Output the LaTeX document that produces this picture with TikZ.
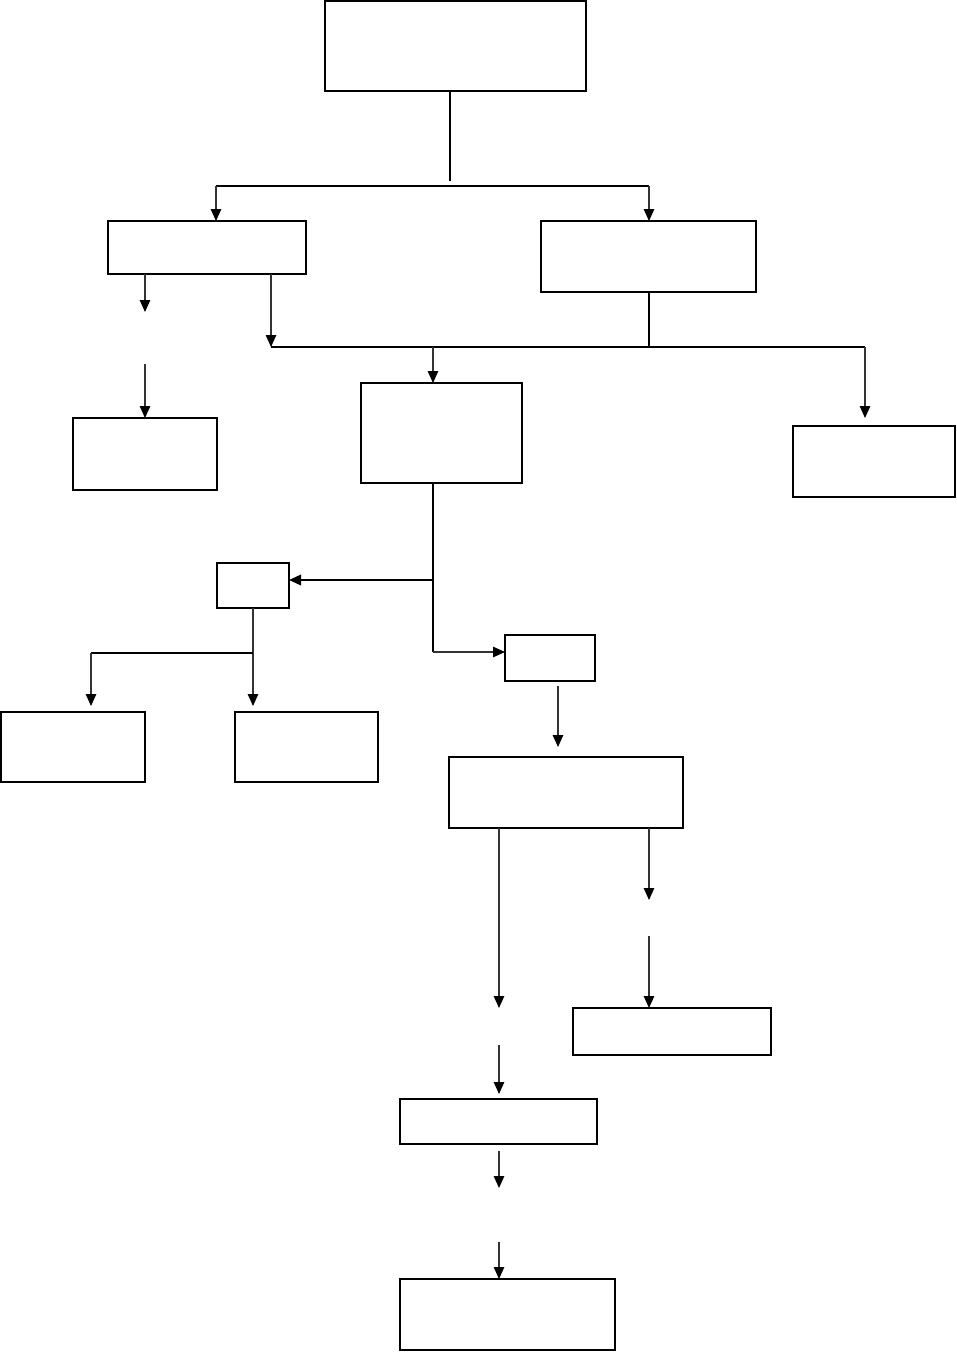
\documentclass[tikz,border=0pt]{standalone}
\usetikzlibrary{arrows.meta}
\tikzset{
  box/.style={draw=black, line width=2pt, inner sep=0pt, outer sep=0pt, fill=white},
  conn/.style={line width=1.2pt, draw=black!80},
  arr/.style={conn, -{Triangle[length=12pt,width=10.5pt,color=black]}},
  bus/.style={line width=2.2pt, draw=black}
}
\begin{document}
\begin{tikzpicture}[x=1pt,y=-1pt]
\useasboundingbox[fill=white] (0,0) rectangle (956,1352);
% boxes
\node[box, minimum width=261pt, minimum height=90pt] (top) at (455.5,46) {};
\node[box, minimum width=198pt, minimum height=53pt] (A) at (207,247.5) {};
\node[box, minimum width=215pt, minimum height=71pt] (B) at (648.5,256.5) {};
\node[box, minimum width=144pt, minimum height=72pt] (C) at (145,454) {};
\node[box, minimum width=161pt, minimum height=100pt] (D) at (441.5,433) {};
\node[box, minimum width=162pt, minimum height=71pt] (E) at (874,461.5) {};
\node[box, minimum width=72pt, minimum height=45pt] (F) at (253,585.5) {};
\node[box, minimum width=90pt, minimum height=46pt] (G) at (550,658) {};
\node[box, minimum width=143pt, minimum height=70pt] (H) at (306.5,747) {};
\node[box, minimum width=144pt, minimum height=70pt] (I) at (73,747) {};
\node[box, minimum width=234pt, minimum height=71pt] (J) at (566,792.5) {};
\node[box, minimum width=197pt, minimum height=45pt] (K) at (498.5,1121.5) {};
\node[box, minimum width=198pt, minimum height=47pt] (L) at (672,1031.5) {};
\node[box, minimum width=215pt, minimum height=71pt] (M) at (507.5,1314.5) {};
% coordinates
\coordinate (t1) at (450,181);
\coordinate (b1l) at (216,186);
\coordinate (b1r) at (649,186);
\coordinate (a1) at (145,312);
\coordinate (a2) at (145,364);
\coordinate (b2l) at (271,347);
\coordinate (b2r) at (865,347);
\coordinate (bB) at (649,347);
\coordinate (d0) at (433,347);
\coordinate (e1) at (865,418);
\coordinate (d1) at (433,580);
\coordinate (d2) at (433,652);
\coordinate (f1) at (253,653);
\coordinate (f2) at (253,706);
\coordinate (i0) at (91,653);
\coordinate (i1) at (91,706);
\coordinate (g2) at (558,747);
\coordinate (j1) at (499,1008);
\coordinate (j2) at (499,1045);
\coordinate (j3) at (649,900);
\coordinate (j4) at (649,936);
\coordinate (k1) at (499,1188);
\coordinate (k2) at (499,1242);
% connectors
\draw[conn, draw=black] (top.south -| t1) -- (t1);
\draw[bus] (b1l) -- (b1r);
\draw[arr] (b1l) -- (A.north -| b1l);
\draw[arr] (b1r) -- (B.north -| b1r);
\draw[arr] (A.south -| a1) -- (a1);
\draw[arr] (a2) -- (C.north -| a2);
\draw[arr] (A.south -| b2l) -- (b2l);
\draw[bus] (b2l) -- (b2r);
\draw[conn, draw=black] (B.south -| bB) -- (bB);
\draw[arr] (d0) -- (D.north -| d0);
\draw[arr] (b2r) -- (e1);
\draw[conn, draw=black] (D.south -| d1) -- (d2);
\draw[arr, line width=2pt, draw=black] (d1) -- (F.east |- d1);
\draw[arr] (d2) -- (G.west |- d2);
\draw[conn] (F.south) -- (f1);
\draw[arr] (f1) -- (f2);
\draw[bus] (f1) -- (i0);
\draw[arr] (i0) -- (i1);
\draw[arr, shorten <=5pt] (G.south -| g2) -- (g2);
\draw[arr] (J.south -| j1) -- (j1);
\draw[arr, shorten >=5pt] (j2) -- (K.north -| j2);
\draw[arr] (J.south -| j3) -- (j3);
\draw[arr] (j4) -- (L.north -| j4);
\draw[arr, shorten <=7pt] (K.south -| k1) -- (k1);
\draw[arr] (k2) -- (M.north -| k2);
\end{tikzpicture}
\end{document}
